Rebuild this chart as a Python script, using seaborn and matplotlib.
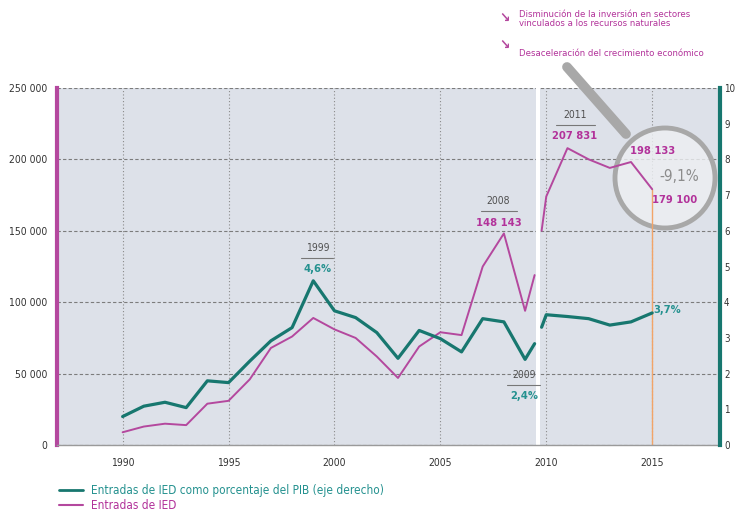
import matplotlib
matplotlib.use('Agg')
import matplotlib.pyplot as plt
import pandas as pd
import seaborn as sns
from matplotlib.lines import Line2D
from matplotlib.patches import Ellipse

# Data (series break around 2009/2010)
years_1 = [1990, 1991, 1992, 1993, 1994, 1995, 1996, 1997, 1998, 1999,
           2000, 2001, 2002, 2003, 2004, 2005, 2006, 2007, 2008, 2009, 2009.45]
ied_1 = [9000, 13000, 15000, 14000, 29000, 31000, 46000, 68000, 76000, 89000,
         81000, 75000, 62000, 47000, 69000, 79000, 77000, 125000, 148143, 94000, 119000]
pct_1 = [0.8, 1.09, 1.2, 1.05, 1.8, 1.75, 2.35, 2.92, 3.29, 4.6,
         3.76, 3.57, 3.15, 2.43, 3.21, 2.98, 2.61, 3.54, 3.45, 2.4, 2.84]

years_2 = [2009.78, 2010, 2011, 2012, 2013, 2014, 2015]
ied_2 = [150000, 174000, 207831, 200000, 194000, 198133, 179100]
pct_2 = [3.3, 3.65, 3.6, 3.54, 3.36, 3.45, 3.7]

x_ticks = [1990, 1995, 2000, 2005, 2010, 2015]
left_ticks = [0, 50000, 100000, 150000, 200000, 250000]
right_ticks = list(range(0, 11))

legend_labels = ['Entradas de IED como porcentaje del PIB (eje derecho)', 'Entradas de IED']

MAG = '#b4489e'
MAG_TXT = '#b2329a'
TEAL = '#17776f'
TEAL_TXT = '#24918f'
GREY_TXT = '#505050'

sns.set_style('white')
plt.rcParams['font.family'] = ['DejaVu Sans']
plt.rcParams['font.stretch'] = 'condensed'

fig = plt.figure(figsize=(7.36, 5.14), dpi=100)
ax = fig.add_axes([0.0774, 0.134, 0.9008, 0.695])
ax.set_facecolor('#dde1e9')
ax2 = ax.twinx()

df1 = pd.DataFrame({'anio': years_1, 'ied': ied_1, 'pct': pct_1})
df2 = pd.DataFrame({'anio': years_2, 'ied': ied_2, 'pct': pct_2})

# white break band
ax.axvspan(2009.5, 2009.72, color='white', lw=0, zorder=1)

# magnifier behind the lines
cx, cy, r = 665 / 736, 1 - 178 / 514, 50
ax.add_patch(Ellipse((cx, cy), width=2 * r / 736, height=2 * r / 514,
                     transform=fig.transFigure, facecolor='#eef0f3', alpha=0.8,
                     edgecolor='none', zorder=1.4, clip_on=False))
ax.add_line(Line2D([567 / 736, 626 / 736], [1 - 67 / 514, 1 - 134 / 514], lw=7, color='#a8a8a8',
                   transform=fig.transFigure, solid_capstyle='round', zorder=1.5, clip_on=False))
ax.add_patch(Ellipse((cx, cy), width=2 * r / 736, height=2 * r / 514,
                     transform=fig.transFigure, facecolor='none',
                     edgecolor='#a8a8a8', lw=3.5, zorder=1.6, clip_on=False))

sns.lineplot(data=df1, x='anio', y='ied', ax=ax, color=MAG, lw=1.4, zorder=2)
sns.lineplot(data=df2, x='anio', y='ied', ax=ax, color=MAG, lw=1.4, zorder=2)
sns.lineplot(data=df1, x='anio', y='pct', ax=ax2, color=TEAL, lw=2.3)
sns.lineplot(data=df2, x='anio', y='pct', ax=ax2, color=TEAL, lw=2.3)

ax.vlines(2015, 0, ied_2[-1], color='#f2a468', lw=1, zorder=1.8)

ax.set_xlim(1986.9, 2018.2)
ax.set_ylim(0, 250000)
ax2.set_ylim(0, 10)
ax.set_xticks(x_ticks)
ax.set_yticks(left_ticks)
ax.set_yticklabels([f'{v:,}'.replace(',', ' ') for v in left_ticks])
ax2.set_yticks(right_ticks)
for a in (ax, ax2):
    a.set_xlabel('')
    a.set_ylabel('')

ax.yaxis.grid(True, ls=(0, (3, 2)), color='#7c7c7c', lw=0.8)
ax.xaxis.grid(True, ls=(0, (1, 2)), color='#8a8a8a', lw=0.8)
ax.tick_params(axis='y', length=0, pad=7, labelsize=7.5, labelcolor='#333333')
ax.tick_params(axis='x', length=3, color='#999999', pad=6, labelsize=7.5, labelcolor='#333333')
ax2.tick_params(axis='y', length=0, pad=3, labelsize=7, labelcolor='#333333')

for s in ('top', 'right'):
    ax.spines[s].set_visible(False)
for s in ('top', 'left', 'bottom'):
    ax2.spines[s].set_visible(False)
ax.spines['left'].set_color(MAG)
ax.spines['left'].set_linewidth(3)
ax.spines['bottom'].set_color('#9a9a9a')
ax.spines['bottom'].set_linewidth(1)
ax2.spines['right'].set_color(TEAL)
ax2.spines['right'].set_linewidth(3)

# annotations
def note(x, y_top, year, val, col, x0, x1):
    ax.text(x, y_top, year, ha='center', va='center', fontsize=7.5, color=GREY_TXT, zorder=3)
    ax.plot([x0, x1], [y_top - 7000, y_top - 7000], color='#777777', lw=0.8, zorder=3)
    ax.text(x, y_top - 14800, val, ha='center', va='center', fontsize=8, color=col,
            fontweight='bold', zorder=3)

note(1999.2, 138000, '1999', '4,6%', TEAL_TXT, 1998.4, 1999.95)
note(2007.75, 170500, '2008', '148 143', MAG_TXT, 2006.9, 2008.6)
note(2008.95, 49000, '2009', '2,4%', TEAL_TXT, 2008.15, 2009.7)
note(2011.35, 231000, '2011', '207 831', MAG_TXT, 2010.45, 2012.3)

ax.text(2015.0, 206000, '198 133', ha='center', va='center', fontsize=8, color=MAG_TXT,
        fontweight='bold', zorder=3)
ax.text(2016.05, 171500, '179 100', ha='center', va='center', fontsize=8, color=MAG_TXT,
        fontweight='bold', zorder=3)
ax.text(2016.3, 188000, '-9,1%', ha='center', va='center', fontsize=11, color='#8c8c8c', zorder=3)
ax.text(2015.05, 94500, '3,7%', ha='left', va='center', fontsize=8, color=TEAL_TXT,
        fontweight='bold', zorder=3)

# header notes
fig.text(505 / 736, 1 - 18 / 514, '\u2198', fontsize=10, color=MAG, ha='center', va='center',
         family='DejaVu Sans', fontweight='bold')
fig.text(505 / 736, 1 - 45 / 514, '\u2198', fontsize=10, color=MAG, ha='center', va='center',
         family='DejaVu Sans', fontweight='bold')
fig.text(519 / 736, 1 - 19 / 514, 'Disminución de la inversión en sectores\nvinculados a los recursos naturales',
         fontsize=6.8, color=MAG_TXT, ha='left', va='center', linespacing=0.95)
fig.text(519 / 736, 1 - 53 / 514, 'Desaceleración del crecimiento económico',
         fontsize=6.8, color=MAG_TXT, ha='left', va='center')

handles = [Line2D([], [], color=TEAL, lw=2), Line2D([], [], color=MAG, lw=1.5)]
fig.legend(handles, legend_labels, loc='upper left', bbox_to_anchor=(0.072, 0.07),
           frameon=False, labelcolor=[TEAL_TXT, MAG_TXT], fontsize=8.5, handlelength=2,
           borderpad=0, labelspacing=0.2, handletextpad=0.7)

fig.savefig('out.png', dpi=100, facecolor='white')
